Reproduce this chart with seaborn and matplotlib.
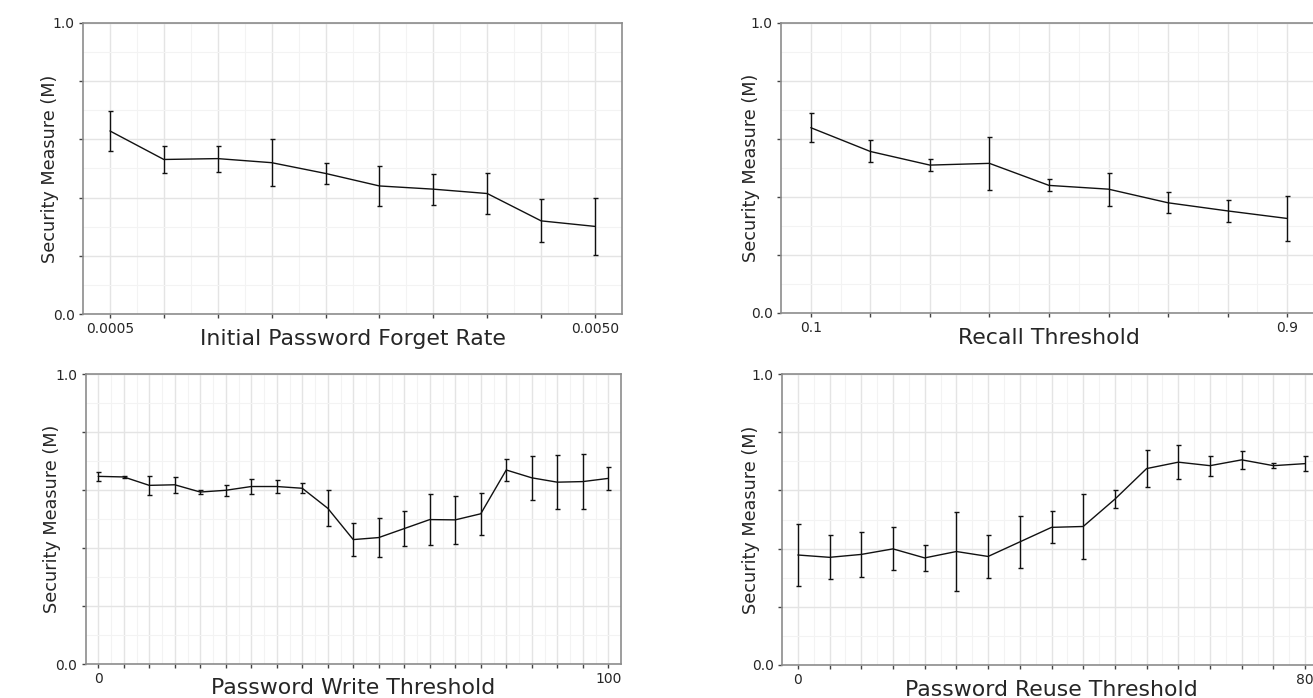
import numpy as np
import pandas as pd
import matplotlib
matplotlib.use("Agg")
import matplotlib.pyplot as plt
import seaborn as sns
from matplotlib.ticker import FixedLocator, MultipleLocator

# panel data: mean security measure and half-width of the error bar
forget_rate = [0.0005, 0.0010, 0.0015, 0.0020, 0.0025, 0.0030, 0.0035, 0.0040, 0.0045, 0.0050]
forget_mean = [0.629, 0.531, 0.534, 0.520, 0.483, 0.440, 0.429, 0.414, 0.320, 0.301]
forget_err = [0.070, 0.045, 0.045, 0.080, 0.036, 0.070, 0.053, 0.069, 0.074, 0.098]

recall_thr = [0.1, 0.2, 0.3, 0.4, 0.5, 0.6, 0.7, 0.8, 0.9]
recall_mean = [0.639, 0.557, 0.510, 0.516, 0.440, 0.427, 0.380, 0.352, 0.326]
recall_err = [0.050, 0.038, 0.022, 0.092, 0.021, 0.057, 0.036, 0.039, 0.077]

write_thr = [0, 5, 10, 15, 20, 25, 30, 35, 40, 45, 50, 55, 60, 65, 70, 75, 80, 85, 90, 95, 100]
write_mean = [0.647, 0.645, 0.616, 0.618, 0.593, 0.599, 0.612, 0.612, 0.606, 0.537, 0.429,
              0.436, 0.467, 0.498, 0.497, 0.518, 0.669, 0.642, 0.627, 0.629, 0.640]
write_err = [0.016, 0.004, 0.032, 0.027, 0.007, 0.019, 0.026, 0.024, 0.018, 0.062, 0.058,
             0.067, 0.061, 0.089, 0.082, 0.072, 0.038, 0.075, 0.093, 0.094, 0.040]

reuse_thr = [0, 5, 10, 15, 20, 25, 30, 35, 40, 45, 50, 55, 60, 65, 70, 75, 80]
reuse_mean = [0.378, 0.370, 0.380, 0.399, 0.368, 0.390, 0.373, 0.423, 0.473, 0.476, 0.570,
              0.675, 0.697, 0.685, 0.705, 0.685, 0.692]
reuse_err = [0.105, 0.076, 0.077, 0.074, 0.046, 0.137, 0.073, 0.089, 0.055, 0.113, 0.032,
             0.063, 0.059, 0.034, 0.030, 0.009, 0.027]

Y_LABEL = "Security Measure (M)"

sns.set_style("white")
plt.rcParams["font.family"] = ["DejaVu Sans"]

W, H = 1313, 698
fig = plt.figure(figsize=(W / 100, H / 100), dpi=100)


def px_axes(left, top, right, bottom):
    return fig.add_axes([left / W, (H - bottom) / H, (right - left) / W, (bottom - top) / H])


def draw_panel(ax, x, mean, err, xlabel, fmt, ylab_x):
    step = x[1] - x[0]
    df = pd.DataFrame({"x": x, "y": mean})
    ax.errorbar(x, mean, yerr=err, fmt="none", ecolor="#111111", elinewidth=1.0,
                capsize=1.8, capthick=1.0, zorder=3)
    sns.lineplot(data=df, x="x", y="y", ax=ax, color="#111111", linewidth=1.0, zorder=4)

    ax.set_xlim(x[0] - step / 2, x[-1] + step / 2)
    ax.set_ylim(0, 1)

    ax.set_xticks(x)
    ax.set_xticklabels([fmt.format(x[0])] + [""] * (len(x) - 2) + [fmt.format(x[-1])])
    ax.xaxis.set_minor_locator(FixedLocator([v + step / 2 for v in x[:-1]]))
    ax.set_yticks([0, 0.2, 0.4, 0.6, 0.8, 1.0])
    ax.set_yticklabels(["0.0", "", "", "", "", "1.0"])
    ax.yaxis.set_minor_locator(MultipleLocator(0.1))

    ax.grid(True, which="major", color="#e4e4e4", linewidth=1.0)
    ax.grid(True, which="minor", color="#f3f3f3", linewidth=0.8)
    ax.set_axisbelow(True)
    ax.tick_params(which="major", direction="out", length=3, width=1, color="#444444",
                   labelsize=10, pad=3, bottom=True, left=True)
    ax.tick_params(which="minor", length=0)
    for sp in ax.spines.values():
        sp.set_color("#8c8c8c")
        sp.set_linewidth(1.2)

    ax.set_xlabel(xlabel, fontsize=15.8)
    ax.xaxis.set_label_coords(0.5, -0.05)
    ax.set_ylabel(Y_LABEL, fontsize=12.7)
    ax.yaxis.set_label_coords(ylab_x, 0.5)


ax1 = px_axes(83, 23, 622, 314)
draw_panel(ax1, forget_rate, forget_mean, forget_err, "Initial Password Forget Rate", "{:.4f}", -0.045)

ax2 = px_axes(781, 23, 1317, 313)
draw_panel(ax2, recall_thr, recall_mean, recall_err, "Recall Threshold", "{:.1f}", -0.04)

ax3 = px_axes(85.5, 374, 621, 664)
draw_panel(ax3, write_thr, write_mean, write_err, "Password Write Threshold", "{:d}", -0.045)

ax4 = px_axes(782, 374, 1321, 665)
draw_panel(ax4, reuse_thr, reuse_mean, reuse_err, "Password Reuse Threshold", "{:d}", -0.04)

fig.savefig("out.png", dpi=100)
